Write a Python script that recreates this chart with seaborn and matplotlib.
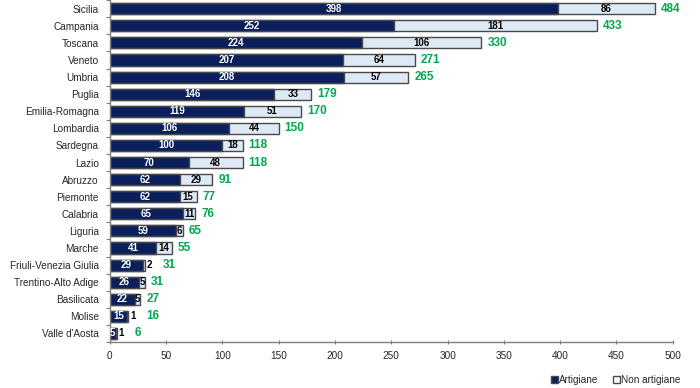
import matplotlib
matplotlib.use("Agg")
import matplotlib.pyplot as plt
import seaborn as sns
import numpy as np
from matplotlib.patches import Patch

regions = ["Sicilia", "Campania", "Toscana", "Veneto", "Umbria", "Puglia",
           "Emilia-Romagna", "Lombardia", "Sardegna", "Lazio", "Abruzzo",
           "Piemonte", "Calabria", "Liguria", "Marche", "Friuli-Venezia Giulia",
           "Trentino-Alto Adige", "Basilicata", "Molise", "Valle d'Aosta"]
artigiane = [398, 252, 224, 207, 208, 146, 119, 106, 100, 70, 62, 62, 65, 59, 41, 29, 26, 22, 15, 5]
non_artigiane = [86, 181, 106, 64, 57, 33, 51, 44, 18, 48, 29, 15, 11, 6, 14, 2, 5, 5, 1, 1]
totals = [a + n for a, n in zip(artigiane, non_artigiane)]
xticks = [0, 50, 100, 150, 200, 250, 300, 350, 400, 450, 500]

sns.set_theme(style="white")
plt.rcParams['font.family'] = ['Liberation Sans Narrow', 'Liberation Sans', 'DejaVu Sans']

DARK = "#0B1F5C"
LIGHT = "#DDE9F5"
EDGE = "#4A4A4A"
GREEN = "#00A84F"

fig = plt.figure(figsize=(7.0, 3.88), dpi=100)
ax = fig.add_axes([0.157, 0.1186, 0.804, 0.881])

sns.barplot(x=totals, y=regions, orient="h", color=LIGHT, edgecolor=EDGE,
            linewidth=1.0, width=0.65, ax=ax, saturation=1)
sns.barplot(x=artigiane, y=regions, orient="h", color=DARK, edgecolor=EDGE,
            linewidth=1.0, width=0.65, ax=ax, saturation=1)

ax.set_xlim(0, 500)
ax.set_ylim(len(regions) - 0.5, -0.5)
ax.set_xticks(xticks)
ax.set_xticklabels([str(t) for t in xticks], fontsize=7.2)
ax.set_xlabel("")
ax.set_ylabel("")
ax.tick_params(axis="y", which="major", length=0, labelsize=7.2, pad=8)
ax.set_yticks(np.arange(-0.5, len(regions), 1.0), minor=True)
ax.tick_params(axis="y", which="minor", length=3, color="#808080", width=0.8, left=True)
ax.tick_params(axis="x", which="major", length=3, color="#808080", width=0.8, bottom=True,
               direction="inout", pad=5)
for s in ["top", "right"]:
    ax.spines[s].set_visible(False)
for s in ["left", "bottom"]:
    ax.spines[s].set_color("#808080")
    ax.spines[s].set_linewidth(1.0)

px = 500.0 / (0.804 * 700)  # data units per pixel
for i, (a, n, t) in enumerate(zip(artigiane, non_artigiane, totals)):
    ax.text(a / 2, i, str(a), color="white", fontsize=7, fontweight="bold",
            ha="center", va="center")
    extra = 0
    if n >= 5:
        ax.text(a + n / 2, i, str(n), color="black", fontsize=7, fontweight="bold",
                ha="center", va="center")
    else:
        ax.text(t + 2 * px, i, str(n), color="black", fontsize=7, fontweight="bold",
                ha="left", va="center")
        extra = 12 * px
    ax.text(t + 6 * px + extra, i, str(t), color=GREEN, fontsize=8.5, fontweight="bold",
            ha="left", va="center")

handles = [Patch(facecolor=DARK, edgecolor=EDGE, label="Artigiane"),
           Patch(facecolor="white", edgecolor=EDGE, label="Non artigiane")]
fig.legend(handles=handles, loc="lower right", bbox_to_anchor=(0.985, -0.015), ncol=2,
           frameon=False, fontsize=7.2, handlelength=0.7, handleheight=0.7,
           handletextpad=0.15, columnspacing=1.4)

fig.savefig("out.png", dpi=100)
